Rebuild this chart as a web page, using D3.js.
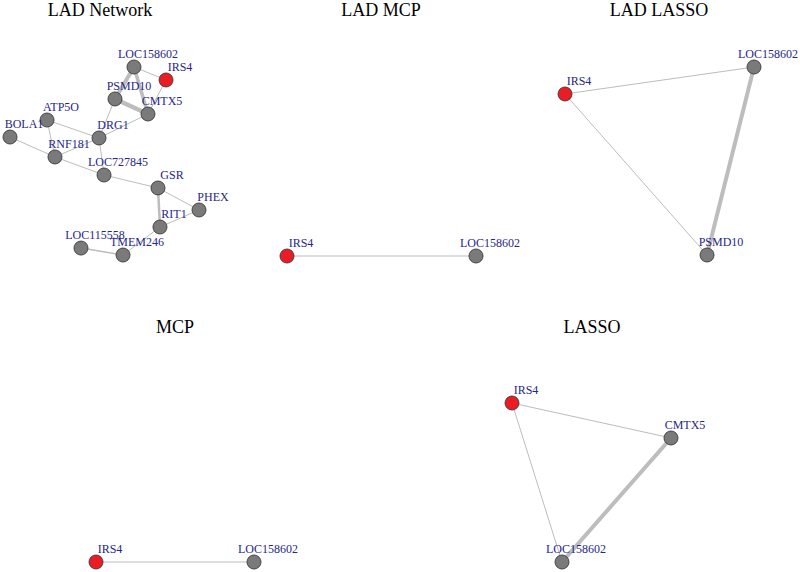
<!DOCTYPE html>
<html>
<head>
<meta charset="utf-8">
<script src="https://cdn.jsdelivr.net/npm/d3@7"></script>
<style>
  html, body { margin: 0; padding: 0; background: #ffffff; }
  svg { display: block; }
</style>
</head>
<body>
<svg id="chart" width="800" height="572"></svg>
<script>
// ---------- DATA ----------
const panelTitles = ["LAD Network", "LAD MCP", "LAD LASSO", "MCP", "LASSO"];

// layout coordinates (igraph-style, rescaled to [-1, 1])
const ladNetworkNodes = [
  { id: "LOC158602", x: 0.312, y: 1.000, hub: false },
  { id: "IRS4",      x: 0.651, y: 0.862, hub: true },
  { id: "PSMD10",    x: 0.111, y: 0.660, hub: false },
  { id: "CMTX5",     x: 0.460, y: 0.500, hub: false },
  { id: "ATP5O",     x: -0.608, y: 0.436, hub: false },
  { id: "BOLA1",     x: -1.000, y: 0.255, hub: false },
  { id: "DRG1",      x: -0.058, y: 0.245, hub: false },
  { id: "RNF181",    x: -0.524, y: 0.043, hub: false },
  { id: "LOC727845", x: -0.005, y: -0.149, hub: false },
  { id: "GSR",       x: 0.566, y: -0.287, hub: false },
  { id: "PHEX",      x: 1.000, y: -0.521, hub: false },
  { id: "RIT1",      x: 0.587, y: -0.702, hub: false },
  { id: "LOC115558", x: -0.249, y: -0.926, hub: false },
  { id: "TMEM246",   x: 0.196, y: -1.000, hub: false }
];
const ladNetworkEdges = [
  { s: "LOC158602", t: "IRS4", w: 1 },
  { s: "LOC158602", t: "PSMD10", w: 4 },
  { s: "LOC158602", t: "CMTX5", w: 3.5 },
  { s: "PSMD10", t: "CMTX5", w: 4.5 },
  { s: "IRS4", t: "CMTX5", w: 1 },
  { s: "PSMD10", t: "DRG1", w: 1 },
  { s: "CMTX5", t: "DRG1", w: 1 },
  { s: "ATP5O", t: "DRG1", w: 1 },
  { s: "ATP5O", t: "RNF181", w: 1 },
  { s: "BOLA1", t: "RNF181", w: 1 },
  { s: "RNF181", t: "DRG1", w: 1 },
  { s: "RNF181", t: "LOC727845", w: 1 },
  { s: "DRG1", t: "LOC727845", w: 1 },
  { s: "LOC727845", t: "GSR", w: 1 },
  { s: "GSR", t: "RIT1", w: 2.5 },
  { s: "GSR", t: "PHEX", w: 1 },
  { s: "PHEX", t: "RIT1", w: 1 },
  { s: "RIT1", t: "TMEM246", w: 1 },
  { s: "LOC115558", t: "TMEM246", w: 1.5 }
];

const ladMcpNodes = [
  { id: "IRS4", x: -1, y: -1, hub: true },
  { id: "LOC158602", x: 1, y: -1, hub: false }
];
const ladMcpEdges = [ { s: "IRS4", t: "LOC158602", w: 1 } ];

const ladLassoNodes = [
  { id: "LOC158602", x: 1.000, y: 1.000, hub: false },
  { id: "IRS4",      x: -1.000, y: 0.713, hub: true },
  { id: "PSMD10",    x: 0.503, y: -1.000, hub: false }
];
const ladLassoEdges = [
  { s: "IRS4", t: "LOC158602", w: 1 },
  { s: "IRS4", t: "PSMD10", w: 1 },
  { s: "LOC158602", t: "PSMD10", w: 4 }
];

const mcpNodes = [
  { id: "IRS4", x: -1, y: -1, hub: true },
  { id: "LOC158602", x: 1, y: -1, hub: false }
];
const mcpEdges = [ { s: "IRS4", t: "LOC158602", w: 1 } ];

const lassoNodes = [
  { id: "IRS4",      x: -1.000, y: 1.000, hub: true },
  { id: "CMTX5",     x: 1.000, y: 0.560, hub: false },
  { id: "LOC158602", x: -0.371, y: -1.000, hub: false }
];
const lassoEdges = [
  { s: "IRS4", t: "CMTX5", w: 1 },
  { s: "IRS4", t: "LOC158602", w: 1 },
  { s: "CMTX5", t: "LOC158602", w: 4 }
];

// ---------- LAYOUT / STYLE ----------
const panels = [
  { title: panelTitles[0], nodes: ladNetworkNodes, edges: ladNetworkEdges, box: [10, 199, 67, 255], tx: 100, ty: 16 },
  { title: panelTitles[1], nodes: ladMcpNodes, edges: ladMcpEdges, box: [287, 476, 67, 256], tx: 381, ty: 16 },
  { title: panelTitles[2], nodes: ladLassoNodes, edges: ladLassoEdges, box: [565, 754, 67, 255], tx: 659, ty: 16 },
  { title: panelTitles[3], nodes: mcpNodes, edges: mcpEdges, box: [96, 254, 403, 562], tx: 175, ty: 333 },
  { title: panelTitles[4], nodes: lassoNodes, edges: lassoEdges, box: [512, 671, 403, 562], tx: 592, ty: 333 }
];

const svg = d3.select("#chart");
const font = "'Liberation Serif', 'Times New Roman', Times, serif";
const widthScale = d3.scaleLinear().domain([1, 4.5]).range([1, 4.5]);

panels.forEach(p => {
  const g = svg.append("g");
  const x = d3.scaleLinear().domain([-1, 1]).range([p.box[0], p.box[1]]);
  const y = d3.scaleLinear().domain([-1, 1]).range([p.box[3], p.box[2]]);
  const byId = new Map(p.nodes.map(n => [n.id, n]));

  g.append("text")
    .attr("x", p.tx).attr("y", p.ty)
    .attr("text-anchor", "middle")
    .attr("font-family", font)
    .attr("font-size", 18)
    .attr("fill", "#000")
    .text(p.title);

  g.selectAll("line.edge").data(p.edges).join("line")
    .attr("class", "edge")
    .attr("x1", d => x(byId.get(d.s).x)).attr("y1", d => y(byId.get(d.s).y))
    .attr("x2", d => x(byId.get(d.t).x)).attr("y2", d => y(byId.get(d.t).y))
    .attr("stroke", "#bdbdbd")
    .attr("stroke-width", d => widthScale(d.w));

  g.selectAll("circle.node").data(p.nodes).join("circle")
    .attr("class", "node")
    .attr("cx", d => x(d.x)).attr("cy", d => y(d.y))
    .attr("r", 7)
    .attr("fill", d => d.hub ? "#ea1c24" : "#7a7a7a")
    .attr("stroke", "#3a3a3a")
    .attr("stroke-width", 0.9);

  g.selectAll("text.label").data(p.nodes).join("text")
    .attr("class", "label")
    .attr("x", d => x(d.x) + 14).attr("y", d => y(d.y) - 9)
    .attr("text-anchor", "middle")
    .attr("font-family", font)
    .attr("font-size", 12)
    .attr("fill", "#26268a")
    .text(d => d.id);
});
</script>
</body>
</html>
